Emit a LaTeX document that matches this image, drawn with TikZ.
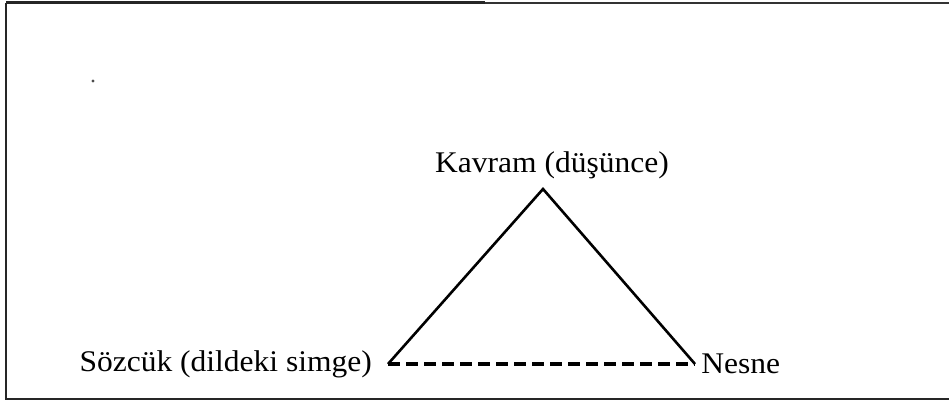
\documentclass[tikz,border=0pt]{standalone}
\usepackage{fontspec}
\setmainfont{Liberation Serif}
\usepackage{tikz}
\usetikzlibrary{positioning,calc}

\begin{document}
\begin{tikzpicture}[x=1pt, y=-1pt,
  etiket/.style={inner sep=1pt, font=\fontsize{30}{33}\selectfont, xscale=1.05},
  kenar/.style={line width=2.6pt, line join=miter},
  taban/.style={line width=4.5pt, dash pattern=on 12pt off 6pt}]

  \useasboundingbox (0,0) rectangle (949,403);

  % Frame (left, top and bottom edges only)
  \draw[line width=2pt, gray!30!black] (6,3) -- (6,399) -- (949,399);
  \draw[line width=1.4pt, gray!40!black] (6,3) -- (949,3);
  \draw[line width=3pt, gray!30!black] (6,3) -- (485,3);
  \fill[gray!60!black] (93,81) circle (1.6);

  % Define coordinates for corners
  \coordinate (tepe) at (543,189);
  \coordinate (sol) at (388,364);
  \coordinate (sag) at (695,364);

  % Labels
  \node[etiket] (kavram) at (552,165) {Kavram (düşünce)};
  \node[etiket, anchor=east] (sozcuk) at (373,364) {Sözcük (dildeki simge)};
  \node[etiket, anchor=west] (nesne) at (700,364) {Nesne};

  % Draw triangle sides
  \draw[kenar] (sol) -- (tepe) -- (sag);
  \draw[taban] (sol) -- (sag);
\end{tikzpicture}
\end{document}
